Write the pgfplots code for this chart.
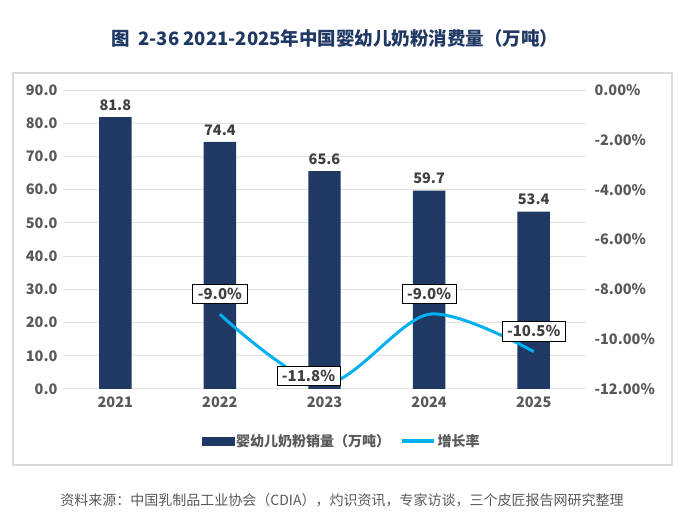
\documentclass[border=0pt]{standalone}
\usepackage{pgfplots}
\pgfplotsset{compat=1.18}
\usepackage{fontspec}
\setmainfont{Noto Sans CJK SC}
\definecolor{navy}{HTML}{1F3864}
\definecolor{cyanline}{HTML}{00B0F0}
\definecolor{tickgray}{HTML}{595959}
\definecolor{labgray}{HTML}{404040}
\definecolor{gridgray}{HTML}{E3E3E3}
\definecolor{framegray}{HTML}{DADADA}
\newcommand{\fs}[1]{\fontsize{#1}{#1}\selectfont}
\begin{document}
\begin{tikzpicture}
\path[use as bounding box] (0,0) rectangle (690pt,527pt);
\fill[white] (0,0) rectangle (690pt,527pt);
\draw[framegray, line width=1.5pt] (13pt,62pt) rectangle (672pt,454pt);
\node[font=\fs{18.5}\bfseries, text=navy] at (335pt,489pt) {图\hspace{0.45em}2-36 2021-2025年中国婴幼儿奶粉消费量（万吨）};
\node[font=\fs{14}, text=tickgray] at (342pt,27pt) {资料来源：中国乳制品工业协会（CDIA），灼识资讯，专家访谈，三个皮匠报告网研究整理};
\begin{axis}[
  at={(63pt,138pt)}, anchor=south west,
  scale only axis, width=523pt, height=299pt,
  xmin=-0.5, xmax=4.5, ymin=0, ymax=90,
  xtick={0,1,2,3,4}, xticklabels={2021,2022,2023,2024,2025},
  ytick={0,10,...,90},
  /pgf/number format/assume math mode=true,
  yticklabel={\pgfmathprintnumber[fixed,fixed zerofill,precision=1]{\tick}},
  axis line style={draw=none},
  tick style={draw=none},
  ymajorgrids, major grid style={draw=gridgray, line width=1pt},
  ticklabel style={font=\fs{14.5}\bfseries, text=tickgray},
  yticklabel style={xshift=-2pt},
  xticklabel style={yshift=-4pt},
]
\addplot[ybar, bar width=0.31, fill=navy, draw=none,
  nodes near coords={\pgfmathprintnumber[fixed,fixed zerofill,precision=1]{\pgfplotspointmeta}},
  nodes near coords style={font=\fs{14.5}\bfseries, text=labgray, yshift=3pt}]
  coordinates {(0,81.8) (1,74.4) (2,65.6) (3,59.7) (4,53.4)};
\end{axis}
\begin{axis}[
  at={(63pt,138pt)}, anchor=south west,
  scale only axis, width=523pt, height=299pt,
  xmin=-0.5, xmax=4.5, ymin=-12, ymax=0,
  axis y line*=right, axis x line=none,
  ytick={-12,-10,...,0},
  /pgf/number format/assume math mode=true,
  yticklabel={\pgfmathprintnumber[fixed,fixed zerofill,precision=2]{\tick}\%},
  axis line style={draw=none},
  tick style={draw=none},
  ticklabel style={font=\fs{14.5}\bfseries, text=tickgray},
  yticklabel style={xshift=5pt},
  legend style={at={(0.533,-0.174)}, anchor=center, draw=none, fill=none,
    legend columns=2, font=\fs{14}\bfseries, text=tickgray,
    /tikz/every even column/.append style={column sep=8pt}},
  legend cell align=left,
]
\addlegendimage{legend image code/.code={\fill[navy] (0pt,-4pt) rectangle (32pt,4pt);}}
\addlegendentry{婴幼儿奶粉销量（万吨）}
\addplot[smooth, color=cyanline, line width=3pt, legend image code/.code={\draw[cyanline, line width=3.5pt] (0pt,0pt) -- (32pt,0pt);}]
  coordinates {(1,-9.0) (2,-11.8) (3,-9.0) (4,-10.5)};
\addlegendentry{增长率}
\pgfplotsset{every node near coord/.append style={font=\fs{15}\bfseries, text=labgray, draw=black, fill=white, line width=0.8pt, inner xsep=5pt, inner ysep=4pt}}
\addplot[draw=none, no marks, forget plot, point meta=explicit symbolic, nodes near coords,
  nodes near coords style={anchor=center, yshift=20.5pt}]
  coordinates {(1,-9.0)[-9.0\%] (3,-9.0)[-9.0\%] (4,-10.5)[-10.5\%]};
\addplot[draw=none, no marks, forget plot, point meta=explicit symbolic, nodes near coords,
  nodes near coords style={anchor=center, xshift=-16pt, yshift=8pt}]
  coordinates {(2,-11.8)[-11.8\%]};
\end{axis}
\end{tikzpicture}
\end{document}
